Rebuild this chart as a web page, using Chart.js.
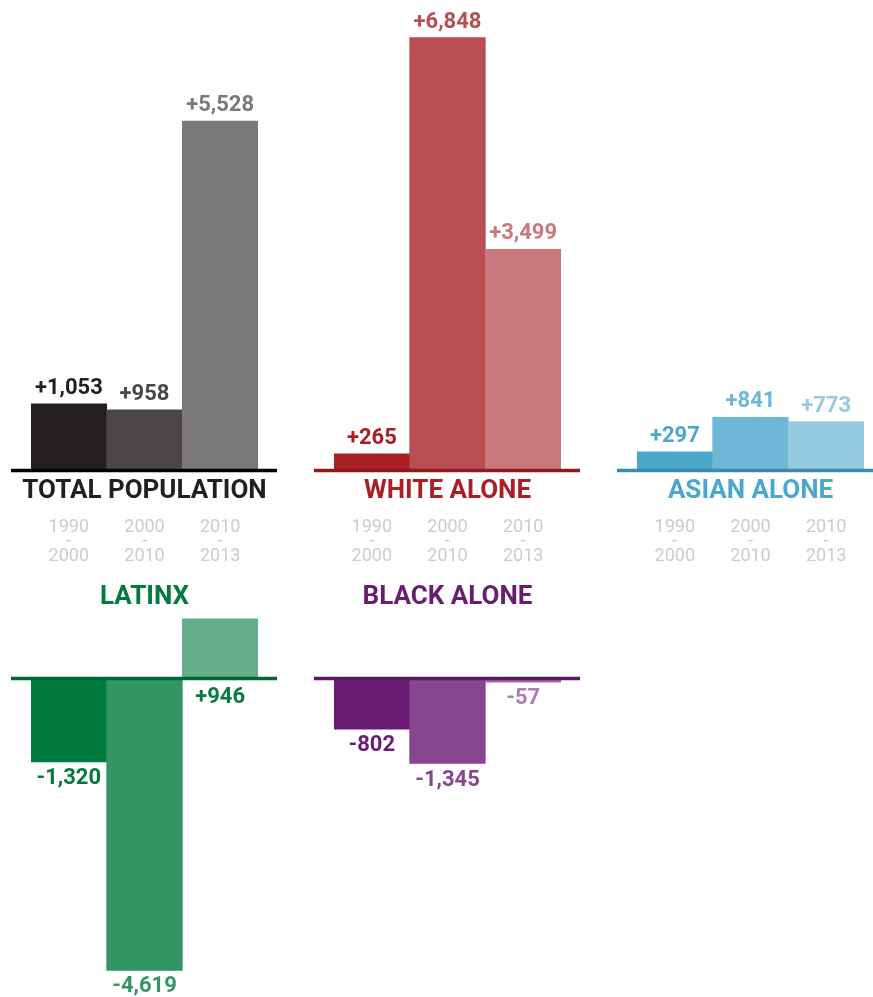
<!DOCTYPE html>
<html>
<head>
<meta charset="utf-8">
<script src="https://cdn.jsdelivr.net/npm/chart.js@4.4.1/dist/chart.umd.min.js"></script>
<style>
  html, body { margin:0; padding:0; background:#fff; overflow:hidden; }
  body { width:873px; height:997px; position:relative; }
  canvas { position:absolute; }
</style>
</head>
<body>
<canvas id="total" width="266" height="580" style="left:11px;top:0px"></canvas>
<canvas id="white" width="266" height="580" style="left:314px;top:0px"></canvas>
<canvas id="asian" width="266" height="580" style="left:617px;top:0px"></canvas>
<canvas id="latinx" width="266" height="427" style="left:11px;top:570px"></canvas>
<canvas id="black" width="266" height="427" style="left:314px;top:570px"></canvas>
<script>
// --- data ---
const periods = [['1990', '-', '2000'], ['2000', '-', '2010'], ['2010', '-', '2013']];
const totalPopulation = [1053, 958, 5528];
const whiteAlone = [265, 6848, 3499];
const asianAlone = [297, 841, 773];
const latinx = [-1320, -4619, 946];
const blackAlone = [-802, -1345, -57];

// same vertical scale for every panel
const topRow = {min: 0, max: 7443, padding: {left: 20, right: 19, top: 0, bottom: 109.5}};
const bottomRow = {min: -5007, max: 1084, padding: {left: 20, right: 19, top: 40, bottom: 2}};

// --- draws zero line, value labels, panel title and period ticks ---
const panelDecor = {
  id: 'panelDecor',
  afterDatasetsDraw(chart, args, opts) {
    const {ctx, chartArea, scales: {x, y}} = chart;
    const zero = y.getPixelForValue(0);
    ctx.save();

    ctx.strokeStyle = opts.axisColor;
    ctx.lineWidth = 3.5;
    ctx.beginPath();
    ctx.moveTo(0, zero);
    ctx.lineTo(chart.width, zero);
    ctx.stroke();

    ctx.textAlign = 'center';
    ctx.textBaseline = 'alphabetic';
    ctx.font = 'bold 22px Roboto';
    const values = chart.data.datasets[0].data;
    chart.getDatasetMeta(0).data.forEach((bar, i) => {
      const v = values[i];
      const txt = (v > 0 ? '+' : '') + v.toLocaleString('en-US');
      let ty;
      if (opts.labelSide === 'above') ty = Math.min(bar.y, bar.base) - 10;
      else ty = Math.max(bar.y, bar.base + 2) + 22;
      ctx.fillStyle = opts.labelColors[i];
      ctx.fillText(txt, bar.x, ty);
    });

    const cx = (chartArea.left + chartArea.right) / 2;
    ctx.font = 'bold 26px Roboto';
    ctx.fillStyle = opts.titleColor;
    const titleY = opts.labelSide === 'above' ? zero + 27.5 : chartArea.top - 6;
    ctx.fillText(opts.title, cx, titleY);

    if (opts.showTicks) {
      ctx.font = '18px Roboto';
      ctx.fillStyle = '#cccccc';
      chart.data.labels.forEach((lines, i) => {
        const px = x.getPixelForValue(i);
        lines.forEach((l, j) => ctx.fillText(l, px, zero + 61 + j * 14.65));
      });
    }
    ctx.restore();
  }
};

function makePanel(id, values, colors, decor, row) {
  return new Chart(document.getElementById(id), {
    type: 'bar',
    data: {
      labels: periods,
      datasets: [{
        data: values,
        backgroundColor: colors,
        borderWidth: 0,
        barPercentage: 1,
        categoryPercentage: 1
      }]
    },
    options: {
      responsive: false,
      animation: false,
      layout: {padding: row.padding},
      scales: {
        x: {display: false},
        y: {display: false, min: row.min, max: row.max}
      },
      plugins: {
        legend: {display: false},
        tooltip: {enabled: false},
        panelDecor: decor
      }
    },
    plugins: [panelDecor]
  });
}

makePanel('total', totalPopulation, ['#231f20', '#4b4748', '#7a7879'], {
  title: 'TOTAL POPULATION', titleColor: '#231f20', axisColor: '#000000',
  labelColors: ['#231f20', '#4b4748', '#7a7879'], labelSide: 'above', showTicks: true
}, topRow);

makePanel('white', whiteAlone, ['#a91f24', '#b84e52', '#c9797b'], {
  title: 'WHITE ALONE', titleColor: '#a91f24', axisColor: '#8e1a1f',
  labelColors: ['#a91f24', '#b84e52', '#c9797b'], labelSide: 'above', showTicks: true
}, topRow);

makePanel('asian', asianAlone, ['#4aa8cd', '#6cb8d6', '#95cbe0'], {
  title: 'ASIAN ALONE', titleColor: '#4aa8cd', axisColor: '#3a8aa8',
  labelColors: ['#4aa8cd', '#6cb8d6', '#95cbe0'], labelSide: 'above', showTicks: true
}, topRow);

makePanel('latinx', latinx, ['#007a3d', '#339466', '#64ae8b'], {
  title: 'LATINX', titleColor: '#007a3d', axisColor: '#006633',
  labelColors: ['#007a3d', '#339466', '#0b7a42'], labelSide: 'below', showTicks: false
}, bottomRow);

makePanel('black', blackAlone, ['#6a1b72', '#87458f', '#a06aa8'], {
  title: 'BLACK ALONE', titleColor: '#6a1b72', axisColor: '#5a1a62',
  labelColors: ['#6a1b72', '#87458f', '#a97fb0'], labelSide: 'below', showTicks: false
}, bottomRow);
</script>
</body>
</html>
